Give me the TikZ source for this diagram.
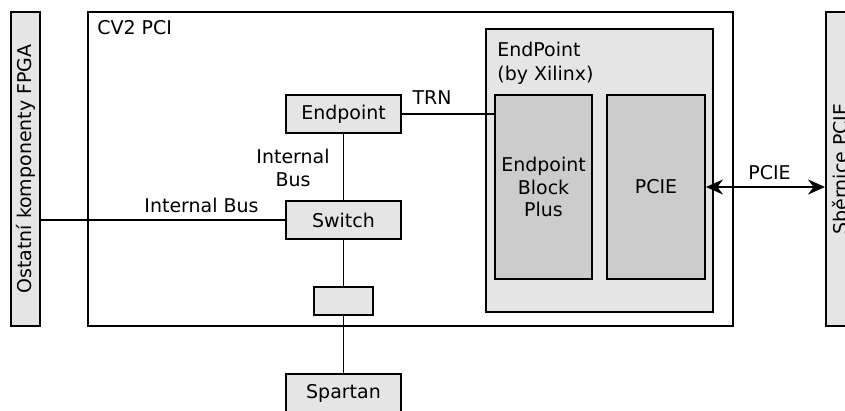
\documentclass[tikz,border=0pt]{standalone}
\usepackage{fontspec}
\setmainfont{DejaVu Sans}
\usetikzlibrary{arrows.meta}

\begin{document}
\begin{tikzpicture}[x=0.02cm,y=-0.02cm,
    every node/.style={font=\fontsize{10.8}{12.8}\selectfont,inner sep=0pt},
    blok/.style={draw=black,line width=1.1pt,fill=black!10},
    vnitrni/.style={draw=black,line width=1.1pt,fill=black!20,align=center},
    spoj/.style={line width=1.1pt}]
    \useasboundingbox (0,0) rectangle (845,410);
    % hlavni ramec
    \node [draw=black,line width=1.1pt,fill=white,minimum width=12.9cm,minimum height=6.28cm] (cv2) at (410.5,169) {};
    \node [anchor=base west] (cv2lbl) at (97,34) {CV2 PCI};
    \node [blok,minimum width=0.58cm,minimum height=6.28cm] (ostatni) at (25.5,169) {};
    \node [rotate=90] (ostatnilbl) at (ostatni) {Ostatní komponenty FPGA};
    \node [blok,minimum width=0.58cm,minimum height=6.28cm] (sbernice) at (840.5,169) {};
    \node [rotate=90] (sbernicelbl) at (sbernice) {Sběrnice PCIE};
    % bloky uvnitr
    \node [blok,minimum width=2.3cm,minimum height=0.76cm] (endpoint) at (343.5,114) {Endpoint};
    \node [blok,minimum width=2.3cm,minimum height=0.76cm] (switch) at (343.5,220) {Switch};
    \node [blok,minimum width=1.18cm,minimum height=0.56cm] (mezi) at (343.5,301) {};
    \node [blok,minimum width=2.3cm,minimum height=0.76cm] (spartan) at (343.5,393) {Spartan};
    \node [blok,minimum width=4.54cm,minimum height=5.66cm] (xilinx) at (599.5,170.5) {};
    \node [anchor=north west,align=left,font=\fontsize{10.8}{13.6}\selectfont] (xilinxlbl) at (497,42) {EndPoint\\(by Xilinx)};
    \node [vnitrni,minimum width=1.94cm,minimum height=3.68cm] (blockplus) at (543.5,187) {Endpoint\\Block\\Plus};
    \node [vnitrni,minimum width=1.96cm,minimum height=3.68cm] (pcie) at (656,187) {PCIE};
    % spoje
    \draw [spoj] (ostatni.east |- switch.west) -- (switch.west);
    \node [anchor=base] (buslbl) at (201.5,212) {Internal Bus};
    \draw [spoj] (endpoint) -- (switch);
    \node [align=center] (buslbl2) at (293,168) {Internal\\Bus};
    \draw [spoj] (switch) -- (mezi);
    \draw [spoj] (mezi) -- (spartan);
    \draw [spoj] (endpoint.east) -- (blockplus.west |- endpoint.east);
    \node [anchor=base] (trnlbl) at (432,104) {TRN};
    \draw [spoj,{Stealth[length=0.34cm,width=0.3cm]}-{Stealth[length=0.34cm,width=0.3cm]}] (pcie.east) -- (sbernice.west |- pcie.east);
    \node [anchor=base] (pcielbl) at (769.5,179) {PCIE};
\end{tikzpicture}
\end{document}
